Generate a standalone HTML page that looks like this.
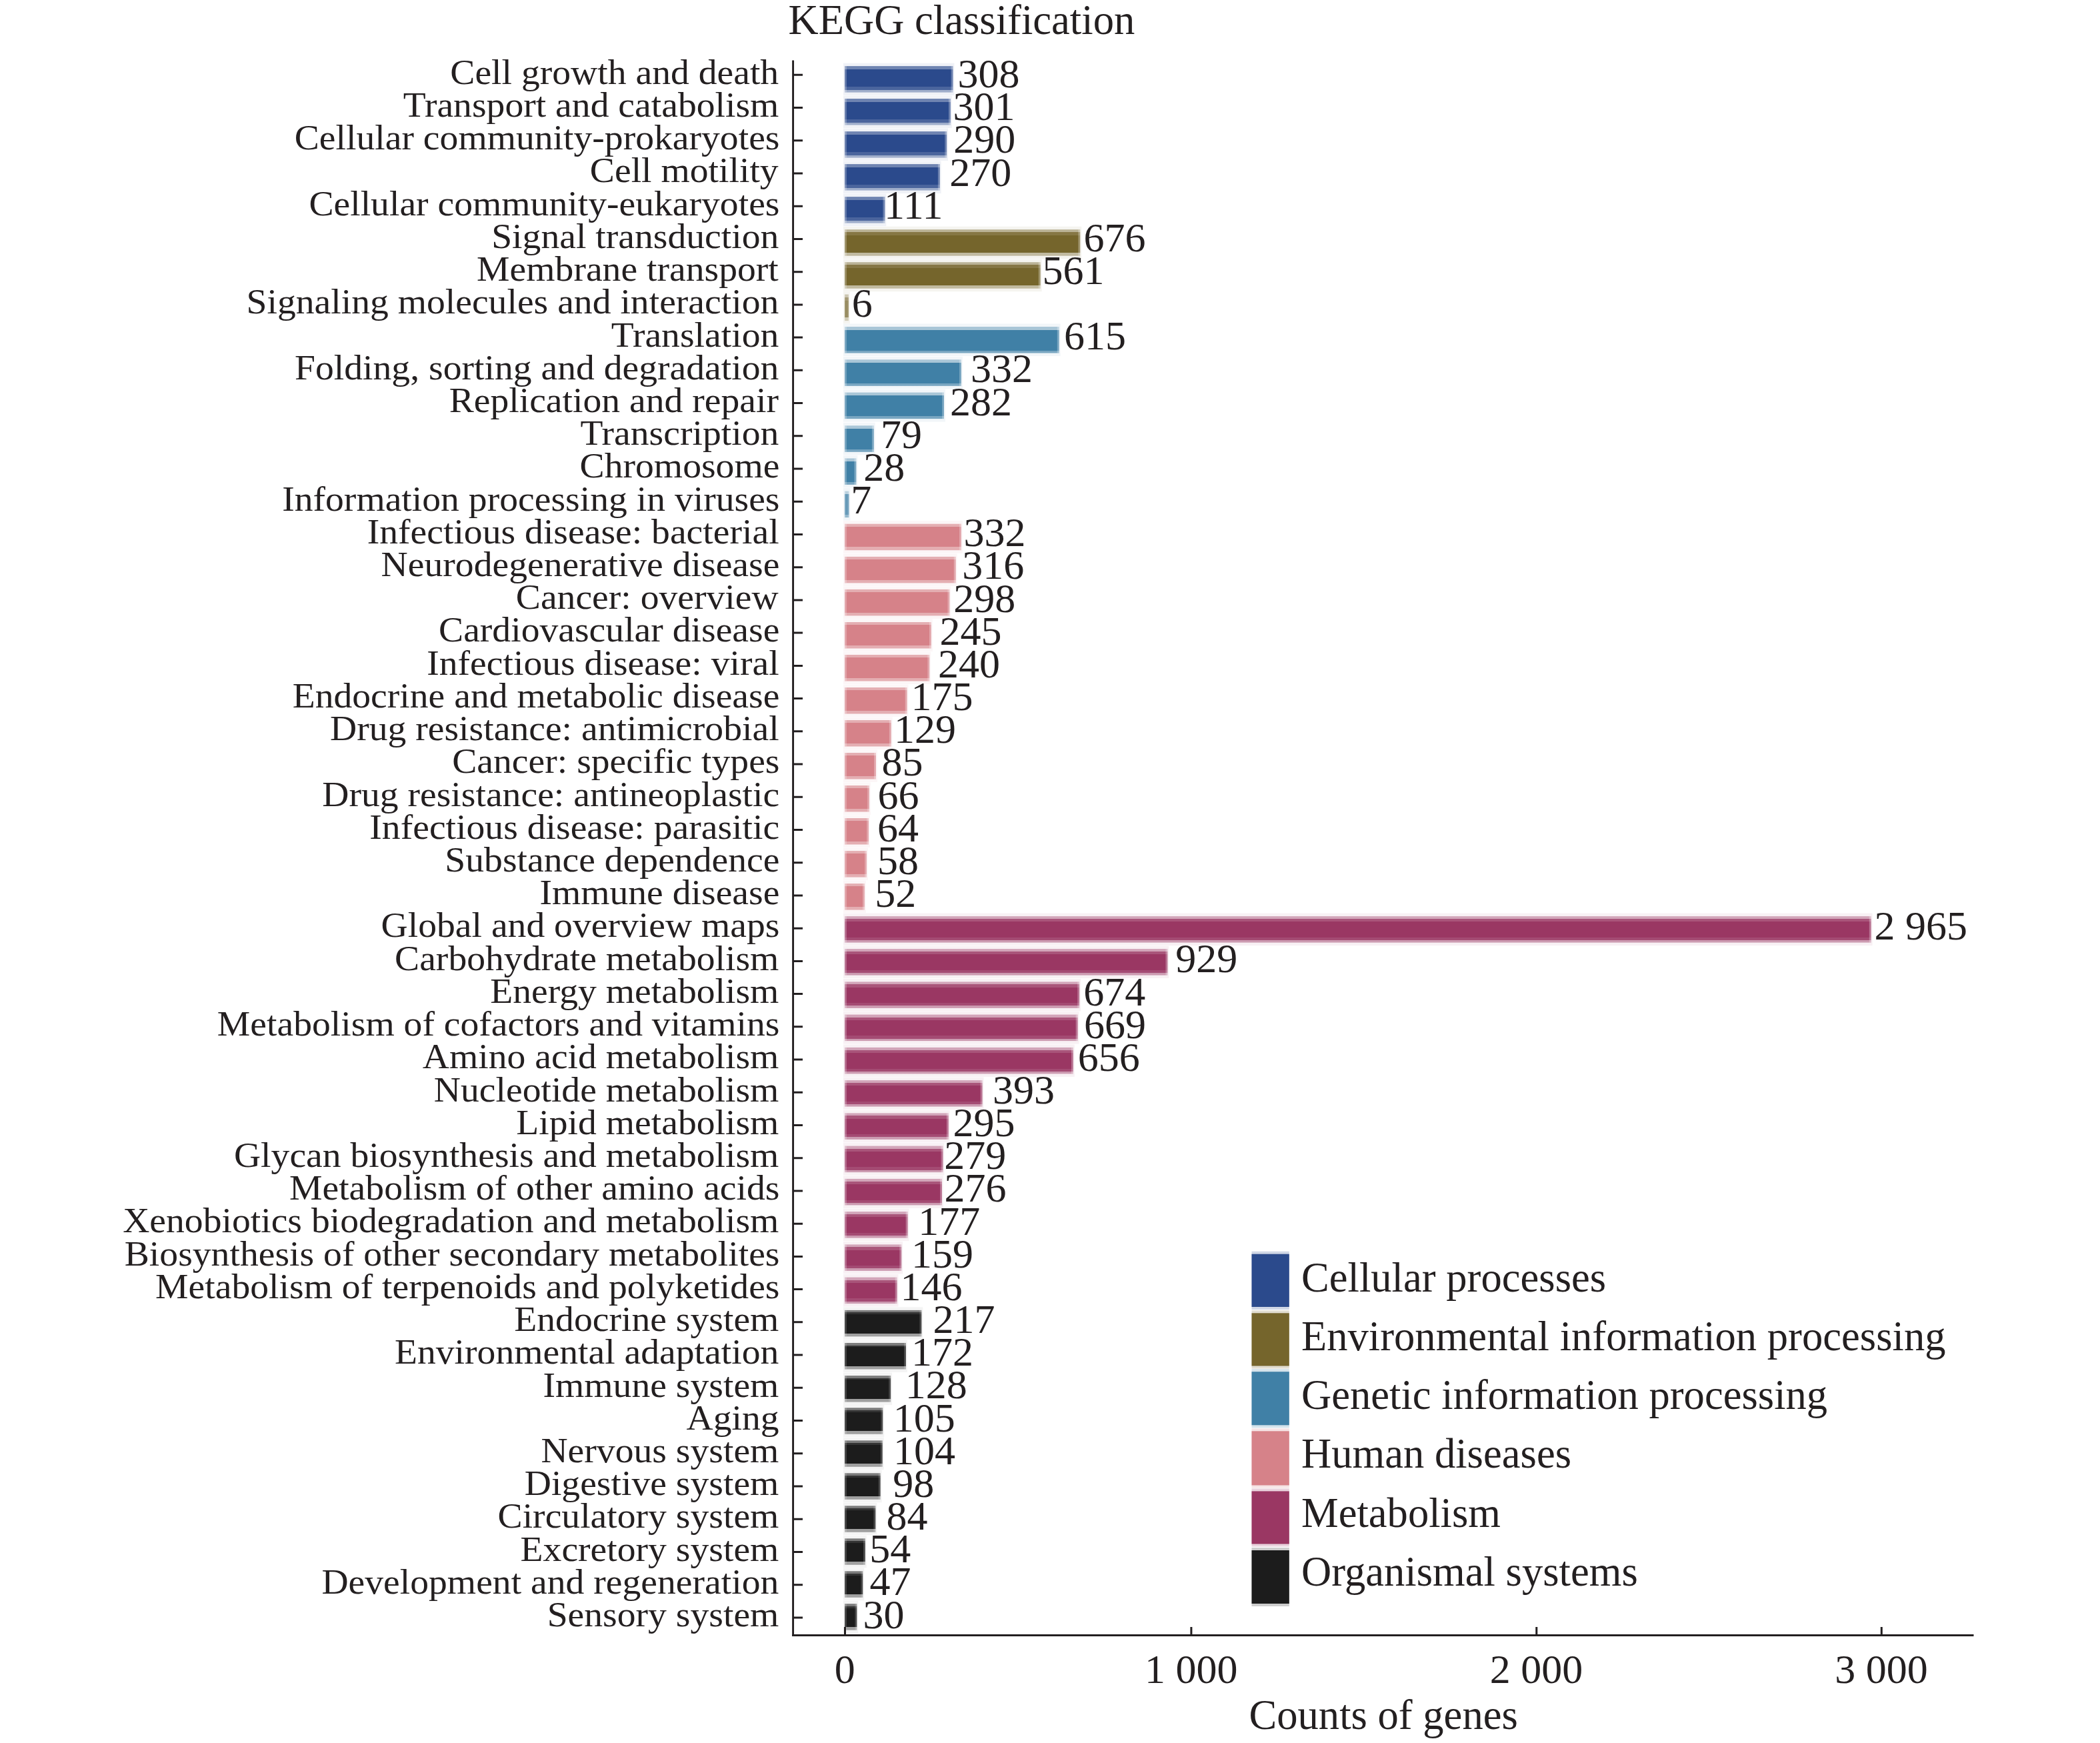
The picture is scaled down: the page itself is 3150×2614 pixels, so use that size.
<!DOCTYPE html>
<html><head><meta charset="utf-8"><title>KEGG classification</title>
<style>
html,body{margin:0;padding:0;background:#fff;}
svg{display:block}
text{font-family:"Liberation Serif","Times New Roman",serif;fill:#231f20;}
.l{font-size:53.7px;text-anchor:end}
.v{font-size:62.0px}
.t{font-size:62.6px}
.k{font-size:62px;text-anchor:middle}
</style></head><body>
<svg width="3150" height="2614" viewBox="0 0 3150 2614">
<defs>
<linearGradient id="g0" x1="0" y1="0" x2="0" y2="1"><stop offset="0" stop-color="#6f84b1"/><stop offset="0.12" stop-color="#6f84b1"/><stop offset="0.12" stop-color="#2b4a8c"/><stop offset="0.79" stop-color="#2b4a8c"/><stop offset="0.79" stop-color="#4b659d"/><stop offset="0.91" stop-color="#4b659d"/><stop offset="0.91" stop-color="#a0aecb"/><stop offset="1" stop-color="#a0aecb"/></linearGradient>
<linearGradient id="g1" x1="0" y1="0" x2="0" y2="1"><stop offset="0" stop-color="#bab296"/><stop offset="0.1" stop-color="#bab296"/><stop offset="0.1" stop-color="#867745"/><stop offset="0.23" stop-color="#867745"/><stop offset="0.23" stop-color="#75652c"/><stop offset="0.87" stop-color="#75652c"/><stop offset="0.87" stop-color="#c1baa0"/><stop offset="1" stop-color="#c1baa0"/></linearGradient>
<linearGradient id="g2" x1="0" y1="0" x2="0" y2="1"><stop offset="0" stop-color="#a9c6d7"/><stop offset="0.12" stop-color="#a9c6d7"/><stop offset="0.12" stop-color="#4080a6"/><stop offset="0.9" stop-color="#4080a6"/><stop offset="0.9" stop-color="#79a6c1"/><stop offset="1" stop-color="#79a6c1"/></linearGradient>
<linearGradient id="g3" x1="0" y1="0" x2="0" y2="1"><stop offset="0" stop-color="#e4aeb2"/><stop offset="0.11" stop-color="#e4aeb2"/><stop offset="0.11" stop-color="#d68289"/><stop offset="0.88" stop-color="#d68289"/><stop offset="0.88" stop-color="#e4aeb2"/><stop offset="1" stop-color="#e4aeb2"/></linearGradient>
<linearGradient id="g4" x1="0" y1="0" x2="0" y2="1"><stop offset="0" stop-color="#d2a5b9"/><stop offset="0.1" stop-color="#d2a5b9"/><stop offset="0.1" stop-color="#a9557a"/><stop offset="0.21" stop-color="#a9557a"/><stop offset="0.21" stop-color="#9a3763"/><stop offset="0.8" stop-color="#9a3763"/><stop offset="0.8" stop-color="#a44b73"/><stop offset="0.91" stop-color="#a44b73"/><stop offset="0.91" stop-color="#cc9bb1"/><stop offset="1" stop-color="#cc9bb1"/></linearGradient>
<linearGradient id="g5" x1="0" y1="0" x2="0" y2="1"><stop offset="0" stop-color="#7b7b7b"/><stop offset="0.09" stop-color="#7b7b7b"/><stop offset="0.09" stop-color="#333333"/><stop offset="0.16" stop-color="#333333"/><stop offset="0.16" stop-color="#1c1c1c"/><stop offset="0.88" stop-color="#1c1c1c"/><stop offset="0.88" stop-color="#a0a0a0"/><stop offset="1" stop-color="#a0a0a0"/></linearGradient>
</defs>
<rect width="3150" height="2614" fill="#fff"/>
<text class="t" x="1182.5" y="51.4">KEGG classification</text>
<rect x="1265.0" y="94.6" width="166.4" height="48.5" fill="#f0f2f7"/>
<rect x="1267.0" y="99.1" width="162.4" height="39.5" fill="url(#g0)"/>
<rect x="1267.0" y="99.1" width="2.8" height="39.5" fill="#fff" fill-opacity="0.3"/>
<rect x="1426.6" y="99.1" width="2.8" height="39.5" fill="#fff" fill-opacity="0.3"/>
<rect x="1265.0" y="143.5" width="162.8" height="48.5" fill="#f0f2f7"/>
<rect x="1267.0" y="148.0" width="158.8" height="39.5" fill="url(#g0)"/>
<rect x="1267.0" y="148.0" width="2.8" height="39.5" fill="#fff" fill-opacity="0.3"/>
<rect x="1423.0" y="148.0" width="2.8" height="39.5" fill="#fff" fill-opacity="0.3"/>
<rect x="1265.0" y="192.6" width="157.1" height="48.5" fill="#f0f2f7"/>
<rect x="1267.0" y="197.1" width="153.1" height="39.5" fill="url(#g0)"/>
<rect x="1267.0" y="197.1" width="2.8" height="39.5" fill="#fff" fill-opacity="0.3"/>
<rect x="1417.3" y="197.1" width="2.8" height="39.5" fill="#fff" fill-opacity="0.3"/>
<rect x="1265.0" y="241.6" width="146.7" height="48.5" fill="#f0f2f7"/>
<rect x="1267.0" y="246.1" width="142.7" height="39.5" fill="url(#g0)"/>
<rect x="1267.0" y="246.1" width="2.8" height="39.5" fill="#fff" fill-opacity="0.3"/>
<rect x="1406.9" y="246.1" width="2.8" height="39.5" fill="#fff" fill-opacity="0.3"/>
<rect x="1265.0" y="290.6" width="64.3" height="48.5" fill="#f0f2f7"/>
<rect x="1267.0" y="295.1" width="60.3" height="39.5" fill="url(#g0)"/>
<rect x="1267.0" y="295.1" width="2.8" height="39.5" fill="#fff" fill-opacity="0.3"/>
<rect x="1324.5" y="295.1" width="2.8" height="39.5" fill="#fff" fill-opacity="0.3"/>
<rect x="1265.0" y="339.7" width="357.2" height="48.5" fill="#f5f4f0"/>
<rect x="1267.0" y="344.2" width="353.2" height="39.5" fill="url(#g1)"/>
<rect x="1267.0" y="344.2" width="2.8" height="39.5" fill="#fff" fill-opacity="0.3"/>
<rect x="1617.4" y="344.2" width="2.8" height="39.5" fill="#fff" fill-opacity="0.3"/>
<rect x="1265.0" y="388.7" width="297.6" height="48.5" fill="#f5f4f0"/>
<rect x="1267.0" y="393.2" width="293.6" height="39.5" fill="url(#g1)"/>
<rect x="1267.0" y="393.2" width="2.8" height="39.5" fill="#fff" fill-opacity="0.3"/>
<rect x="1557.8" y="393.2" width="2.8" height="39.5" fill="#fff" fill-opacity="0.3"/>
<rect x="1265.0" y="437.1" width="9.9" height="48.5" fill="#f5f4f0"/>
<rect x="1267.0" y="441.6" width="5.9" height="39.5" fill="url(#g1)"/>
<rect x="1267.0" y="441.6" width="2.8" height="39.5" fill="#fff" fill-opacity="0.3"/>
<rect x="1270.1" y="441.6" width="2.8" height="39.5" fill="#fff" fill-opacity="0.3"/>
<rect x="1265.0" y="485.5" width="325.6" height="48.5" fill="#f2f6f9"/>
<rect x="1267.0" y="490.0" width="321.6" height="39.5" fill="url(#g2)"/>
<rect x="1267.0" y="490.0" width="2.8" height="39.5" fill="#fff" fill-opacity="0.3"/>
<rect x="1585.8" y="490.0" width="2.8" height="39.5" fill="#fff" fill-opacity="0.3"/>
<rect x="1265.0" y="534.8" width="178.9" height="48.5" fill="#f2f6f9"/>
<rect x="1267.0" y="539.3" width="174.9" height="39.5" fill="url(#g2)"/>
<rect x="1267.0" y="539.3" width="2.8" height="39.5" fill="#fff" fill-opacity="0.3"/>
<rect x="1439.1" y="539.3" width="2.8" height="39.5" fill="#fff" fill-opacity="0.3"/>
<rect x="1265.0" y="584.1" width="153.0" height="48.5" fill="#f2f6f9"/>
<rect x="1267.0" y="588.6" width="149.0" height="39.5" fill="url(#g2)"/>
<rect x="1267.0" y="588.6" width="2.8" height="39.5" fill="#fff" fill-opacity="0.3"/>
<rect x="1413.2" y="588.6" width="2.8" height="39.5" fill="#fff" fill-opacity="0.3"/>
<rect x="1265.0" y="633.8" width="47.7" height="48.5" fill="#f2f6f9"/>
<rect x="1267.0" y="638.3" width="43.7" height="39.5" fill="url(#g2)"/>
<rect x="1267.0" y="638.3" width="2.8" height="39.5" fill="#fff" fill-opacity="0.3"/>
<rect x="1307.9" y="638.3" width="2.8" height="39.5" fill="#fff" fill-opacity="0.3"/>
<rect x="1265.0" y="682.9" width="21.3" height="48.5" fill="#f2f6f9"/>
<rect x="1267.0" y="687.4" width="17.3" height="39.5" fill="url(#g2)"/>
<rect x="1267.0" y="687.4" width="2.8" height="39.5" fill="#fff" fill-opacity="0.3"/>
<rect x="1281.5" y="687.4" width="2.8" height="39.5" fill="#fff" fill-opacity="0.3"/>
<rect x="1265.0" y="732.1" width="10.4" height="48.5" fill="#f2f6f9"/>
<rect x="1267.0" y="736.6" width="6.4" height="39.5" fill="url(#g2)"/>
<rect x="1267.0" y="736.6" width="2.8" height="39.5" fill="#fff" fill-opacity="0.3"/>
<rect x="1270.6" y="736.6" width="2.8" height="39.5" fill="#fff" fill-opacity="0.3"/>
<rect x="1265.0" y="781.2" width="178.9" height="48.5" fill="#fcf6f7"/>
<rect x="1267.0" y="785.7" width="174.9" height="39.5" fill="url(#g3)"/>
<rect x="1267.0" y="785.7" width="2.8" height="39.5" fill="#fff" fill-opacity="0.3"/>
<rect x="1439.1" y="785.7" width="2.8" height="39.5" fill="#fff" fill-opacity="0.3"/>
<rect x="1265.0" y="830.4" width="170.6" height="48.5" fill="#fcf6f7"/>
<rect x="1267.0" y="834.9" width="166.6" height="39.5" fill="url(#g3)"/>
<rect x="1267.0" y="834.9" width="2.8" height="39.5" fill="#fff" fill-opacity="0.3"/>
<rect x="1430.8" y="834.9" width="2.8" height="39.5" fill="#fff" fill-opacity="0.3"/>
<rect x="1265.0" y="879.4" width="161.3" height="48.5" fill="#fcf6f7"/>
<rect x="1267.0" y="883.9" width="157.3" height="39.5" fill="url(#g3)"/>
<rect x="1267.0" y="883.9" width="2.8" height="39.5" fill="#fff" fill-opacity="0.3"/>
<rect x="1421.5" y="883.9" width="2.8" height="39.5" fill="#fff" fill-opacity="0.3"/>
<rect x="1265.0" y="928.5" width="133.8" height="48.5" fill="#fcf6f7"/>
<rect x="1267.0" y="933.0" width="129.8" height="39.5" fill="url(#g3)"/>
<rect x="1267.0" y="933.0" width="2.8" height="39.5" fill="#fff" fill-opacity="0.3"/>
<rect x="1394.0" y="933.0" width="2.8" height="39.5" fill="#fff" fill-opacity="0.3"/>
<rect x="1265.0" y="977.5" width="131.2" height="48.5" fill="#fcf6f7"/>
<rect x="1267.0" y="982.0" width="127.2" height="39.5" fill="url(#g3)"/>
<rect x="1267.0" y="982.0" width="2.8" height="39.5" fill="#fff" fill-opacity="0.3"/>
<rect x="1391.4" y="982.0" width="2.8" height="39.5" fill="#fff" fill-opacity="0.3"/>
<rect x="1265.0" y="1026.5" width="97.5" height="48.5" fill="#fcf6f7"/>
<rect x="1267.0" y="1031.0" width="93.5" height="39.5" fill="url(#g3)"/>
<rect x="1267.0" y="1031.0" width="2.8" height="39.5" fill="#fff" fill-opacity="0.3"/>
<rect x="1357.7" y="1031.0" width="2.8" height="39.5" fill="#fff" fill-opacity="0.3"/>
<rect x="1265.0" y="1075.5" width="73.7" height="48.5" fill="#fcf6f7"/>
<rect x="1267.0" y="1080.0" width="69.7" height="39.5" fill="url(#g3)"/>
<rect x="1267.0" y="1080.0" width="2.8" height="39.5" fill="#fff" fill-opacity="0.3"/>
<rect x="1333.9" y="1080.0" width="2.8" height="39.5" fill="#fff" fill-opacity="0.3"/>
<rect x="1265.0" y="1124.5" width="50.9" height="48.5" fill="#fcf6f7"/>
<rect x="1267.0" y="1129.0" width="46.9" height="39.5" fill="url(#g3)"/>
<rect x="1267.0" y="1129.0" width="2.8" height="39.5" fill="#fff" fill-opacity="0.3"/>
<rect x="1311.1" y="1129.0" width="2.8" height="39.5" fill="#fff" fill-opacity="0.3"/>
<rect x="1265.0" y="1173.5" width="41.0" height="48.5" fill="#fcf6f7"/>
<rect x="1267.0" y="1178.0" width="37.0" height="39.5" fill="url(#g3)"/>
<rect x="1267.0" y="1178.0" width="2.8" height="39.5" fill="#fff" fill-opacity="0.3"/>
<rect x="1301.2" y="1178.0" width="2.8" height="39.5" fill="#fff" fill-opacity="0.3"/>
<rect x="1265.0" y="1222.5" width="40.0" height="48.5" fill="#fcf6f7"/>
<rect x="1267.0" y="1227.0" width="36.0" height="39.5" fill="url(#g3)"/>
<rect x="1267.0" y="1227.0" width="2.8" height="39.5" fill="#fff" fill-opacity="0.3"/>
<rect x="1300.2" y="1227.0" width="2.8" height="39.5" fill="#fff" fill-opacity="0.3"/>
<rect x="1265.0" y="1271.6" width="36.9" height="48.5" fill="#fcf6f7"/>
<rect x="1267.0" y="1276.1" width="32.9" height="39.5" fill="url(#g3)"/>
<rect x="1267.0" y="1276.1" width="2.8" height="39.5" fill="#fff" fill-opacity="0.3"/>
<rect x="1297.1" y="1276.1" width="2.8" height="39.5" fill="#fff" fill-opacity="0.3"/>
<rect x="1265.0" y="1320.6" width="33.8" height="48.5" fill="#fcf6f7"/>
<rect x="1267.0" y="1325.1" width="29.8" height="39.5" fill="url(#g3)"/>
<rect x="1267.0" y="1325.1" width="2.8" height="39.5" fill="#fff" fill-opacity="0.3"/>
<rect x="1294.0" y="1325.1" width="2.8" height="39.5" fill="#fff" fill-opacity="0.3"/>
<rect x="1265.0" y="1369.6" width="1543.6" height="48.5" fill="#f8f1f4"/>
<rect x="1267.0" y="1374.1" width="1539.6" height="39.5" fill="url(#g4)"/>
<rect x="1267.0" y="1374.1" width="2.8" height="39.5" fill="#fff" fill-opacity="0.3"/>
<rect x="2803.8" y="1374.1" width="2.8" height="39.5" fill="#fff" fill-opacity="0.3"/>
<rect x="1265.0" y="1418.6" width="488.3" height="48.5" fill="#f8f1f4"/>
<rect x="1267.0" y="1423.1" width="484.3" height="39.5" fill="url(#g4)"/>
<rect x="1267.0" y="1423.1" width="2.8" height="39.5" fill="#fff" fill-opacity="0.3"/>
<rect x="1748.5" y="1423.1" width="2.8" height="39.5" fill="#fff" fill-opacity="0.3"/>
<rect x="1265.0" y="1467.9" width="356.1" height="48.5" fill="#f8f1f4"/>
<rect x="1267.0" y="1472.4" width="352.1" height="39.5" fill="url(#g4)"/>
<rect x="1267.0" y="1472.4" width="2.8" height="39.5" fill="#fff" fill-opacity="0.3"/>
<rect x="1616.3" y="1472.4" width="2.8" height="39.5" fill="#fff" fill-opacity="0.3"/>
<rect x="1265.0" y="1517.1" width="353.5" height="48.5" fill="#f8f1f4"/>
<rect x="1267.0" y="1521.6" width="349.5" height="39.5" fill="url(#g4)"/>
<rect x="1267.0" y="1521.6" width="2.8" height="39.5" fill="#fff" fill-opacity="0.3"/>
<rect x="1613.7" y="1521.6" width="2.8" height="39.5" fill="#fff" fill-opacity="0.3"/>
<rect x="1265.0" y="1566.4" width="346.8" height="48.5" fill="#f8f1f4"/>
<rect x="1267.0" y="1570.9" width="342.8" height="39.5" fill="url(#g4)"/>
<rect x="1267.0" y="1570.9" width="2.8" height="39.5" fill="#fff" fill-opacity="0.3"/>
<rect x="1607.0" y="1570.9" width="2.8" height="39.5" fill="#fff" fill-opacity="0.3"/>
<rect x="1265.0" y="1615.6" width="210.5" height="48.5" fill="#f8f1f4"/>
<rect x="1267.0" y="1620.1" width="206.5" height="39.5" fill="url(#g4)"/>
<rect x="1267.0" y="1620.1" width="2.8" height="39.5" fill="#fff" fill-opacity="0.3"/>
<rect x="1470.7" y="1620.1" width="2.8" height="39.5" fill="#fff" fill-opacity="0.3"/>
<rect x="1265.0" y="1664.9" width="159.7" height="48.5" fill="#f8f1f4"/>
<rect x="1267.0" y="1669.4" width="155.7" height="39.5" fill="url(#g4)"/>
<rect x="1267.0" y="1669.4" width="2.8" height="39.5" fill="#fff" fill-opacity="0.3"/>
<rect x="1419.9" y="1669.4" width="2.8" height="39.5" fill="#fff" fill-opacity="0.3"/>
<rect x="1265.0" y="1714.1" width="151.4" height="48.5" fill="#f8f1f4"/>
<rect x="1267.0" y="1718.6" width="147.4" height="39.5" fill="url(#g4)"/>
<rect x="1267.0" y="1718.6" width="2.8" height="39.5" fill="#fff" fill-opacity="0.3"/>
<rect x="1411.6" y="1718.6" width="2.8" height="39.5" fill="#fff" fill-opacity="0.3"/>
<rect x="1265.0" y="1763.4" width="149.9" height="48.5" fill="#f8f1f4"/>
<rect x="1267.0" y="1767.9" width="145.9" height="39.5" fill="url(#g4)"/>
<rect x="1267.0" y="1767.9" width="2.8" height="39.5" fill="#fff" fill-opacity="0.3"/>
<rect x="1410.1" y="1767.9" width="2.8" height="39.5" fill="#fff" fill-opacity="0.3"/>
<rect x="1265.0" y="1812.6" width="98.5" height="48.5" fill="#f8f1f4"/>
<rect x="1267.0" y="1817.1" width="94.5" height="39.5" fill="url(#g4)"/>
<rect x="1267.0" y="1817.1" width="2.8" height="39.5" fill="#fff" fill-opacity="0.3"/>
<rect x="1358.7" y="1817.1" width="2.8" height="39.5" fill="#fff" fill-opacity="0.3"/>
<rect x="1265.0" y="1861.9" width="89.2" height="48.5" fill="#f8f1f4"/>
<rect x="1267.0" y="1866.4" width="85.2" height="39.5" fill="url(#g4)"/>
<rect x="1267.0" y="1866.4" width="2.8" height="39.5" fill="#fff" fill-opacity="0.3"/>
<rect x="1349.4" y="1866.4" width="2.8" height="39.5" fill="#fff" fill-opacity="0.3"/>
<rect x="1265.0" y="1911.1" width="82.5" height="48.5" fill="#f8f1f4"/>
<rect x="1267.0" y="1915.6" width="78.5" height="39.5" fill="url(#g4)"/>
<rect x="1267.0" y="1915.6" width="2.8" height="39.5" fill="#fff" fill-opacity="0.3"/>
<rect x="1342.7" y="1915.6" width="2.8" height="39.5" fill="#fff" fill-opacity="0.3"/>
<rect x="1265.0" y="1960.4" width="119.3" height="48.5" fill="#f4f4f4"/>
<rect x="1267.0" y="1964.9" width="115.3" height="39.5" fill="url(#g5)"/>
<rect x="1267.0" y="1964.9" width="2.8" height="39.5" fill="#fff" fill-opacity="0.2"/>
<rect x="1379.5" y="1964.9" width="2.8" height="39.5" fill="#fff" fill-opacity="0.2"/>
<rect x="1265.0" y="2009.5" width="95.9" height="48.5" fill="#f4f4f4"/>
<rect x="1267.0" y="2014.0" width="91.9" height="39.5" fill="url(#g5)"/>
<rect x="1267.0" y="2014.0" width="2.8" height="39.5" fill="#fff" fill-opacity="0.2"/>
<rect x="1356.1" y="2014.0" width="2.8" height="39.5" fill="#fff" fill-opacity="0.2"/>
<rect x="1265.0" y="2058.6" width="73.1" height="48.5" fill="#f4f4f4"/>
<rect x="1267.0" y="2063.1" width="69.1" height="39.5" fill="url(#g5)"/>
<rect x="1267.0" y="2063.1" width="2.8" height="39.5" fill="#fff" fill-opacity="0.2"/>
<rect x="1333.3" y="2063.1" width="2.8" height="39.5" fill="#fff" fill-opacity="0.2"/>
<rect x="1265.0" y="2106.8" width="61.2" height="48.5" fill="#f4f4f4"/>
<rect x="1267.0" y="2111.3" width="57.2" height="39.5" fill="url(#g5)"/>
<rect x="1267.0" y="2111.3" width="2.8" height="39.5" fill="#fff" fill-opacity="0.2"/>
<rect x="1321.4" y="2111.3" width="2.8" height="39.5" fill="#fff" fill-opacity="0.2"/>
<rect x="1265.0" y="2155.8" width="60.7" height="48.5" fill="#f4f4f4"/>
<rect x="1267.0" y="2160.3" width="56.7" height="39.5" fill="url(#g5)"/>
<rect x="1267.0" y="2160.3" width="2.8" height="39.5" fill="#fff" fill-opacity="0.2"/>
<rect x="1320.9" y="2160.3" width="2.8" height="39.5" fill="#fff" fill-opacity="0.2"/>
<rect x="1265.0" y="2204.8" width="57.6" height="48.5" fill="#f4f4f4"/>
<rect x="1267.0" y="2209.3" width="53.6" height="39.5" fill="url(#g5)"/>
<rect x="1267.0" y="2209.3" width="2.8" height="39.5" fill="#fff" fill-opacity="0.2"/>
<rect x="1317.8" y="2209.3" width="2.8" height="39.5" fill="#fff" fill-opacity="0.2"/>
<rect x="1265.0" y="2253.8" width="50.3" height="48.5" fill="#f4f4f4"/>
<rect x="1267.0" y="2258.3" width="46.3" height="39.5" fill="url(#g5)"/>
<rect x="1267.0" y="2258.3" width="2.8" height="39.5" fill="#fff" fill-opacity="0.2"/>
<rect x="1310.5" y="2258.3" width="2.8" height="39.5" fill="#fff" fill-opacity="0.2"/>
<rect x="1265.0" y="2302.8" width="34.8" height="48.5" fill="#f4f4f4"/>
<rect x="1267.0" y="2307.3" width="30.8" height="39.5" fill="url(#g5)"/>
<rect x="1267.0" y="2307.3" width="2.8" height="39.5" fill="#fff" fill-opacity="0.2"/>
<rect x="1295.0" y="2307.3" width="2.8" height="39.5" fill="#fff" fill-opacity="0.2"/>
<rect x="1265.0" y="2351.8" width="31.2" height="48.5" fill="#f4f4f4"/>
<rect x="1267.0" y="2356.3" width="27.2" height="39.5" fill="url(#g5)"/>
<rect x="1267.0" y="2356.3" width="2.8" height="39.5" fill="#fff" fill-opacity="0.2"/>
<rect x="1291.4" y="2356.3" width="2.8" height="39.5" fill="#fff" fill-opacity="0.2"/>
<rect x="1265.0" y="2400.7" width="22.3" height="48.5" fill="#f4f4f4"/>
<rect x="1267.0" y="2405.2" width="18.3" height="39.5" fill="url(#g5)"/>
<rect x="1267.0" y="2405.2" width="2.8" height="39.5" fill="#fff" fill-opacity="0.2"/>
<rect x="1282.5" y="2405.2" width="2.8" height="39.5" fill="#fff" fill-opacity="0.2"/>
<g stroke="#231f20" stroke-width="2.9" fill="none">
<path d="M1189.6 90.5V2453.9"/>
<path d="M1188.2 2452.5H2960.5"/>
<path d="M1189.6 112.3H1204M1189.6 161.5H1204M1189.6 210.8H1204M1189.6 260.0H1204M1189.6 309.2H1204M1189.6 358.4H1204M1189.6 407.7H1204M1189.6 456.9H1204M1189.6 506.1H1204M1189.6 555.3H1204M1189.6 604.5H1204M1189.6 653.8H1204M1189.6 703.0H1204M1189.6 752.2H1204M1189.6 801.4H1204M1189.6 850.7H1204M1189.6 899.9H1204M1189.6 949.1H1204M1189.6 998.4H1204M1189.6 1047.6H1204M1189.6 1096.8H1204M1189.6 1146.0H1204M1189.6 1195.2H1204M1189.6 1244.5H1204M1189.6 1293.7H1204M1189.6 1342.9H1204M1189.6 1392.2H1204M1189.6 1441.4H1204M1189.6 1490.6H1204M1189.6 1539.8H1204M1189.6 1589.0H1204M1189.6 1638.3H1204M1189.6 1687.5H1204M1189.6 1736.7H1204M1189.6 1786.0H1204M1189.6 1835.2H1204M1189.6 1884.4H1204M1189.6 1933.6H1204M1189.6 1982.8H1204M1189.6 2032.1H1204M1189.6 2081.3H1204M1189.6 2130.5H1204M1189.6 2179.8H1204M1189.6 2229.0H1204M1189.6 2278.2H1204M1189.6 2327.4H1204M1189.6 2376.7H1204M1189.6 2425.9H1204" stroke-width="3"/>
<path d="M1267.5 2452.5V2440M1786.9 2452.5V2440M2304.8 2452.5V2440M2822.3 2452.5V2440" stroke-width="3"/>
</g>
<text class="l" transform="translate(1168.2 125.7) scale(1.0363 1)">Cell growth and death</text>
<text class="l" transform="translate(1168.4 174.9) scale(1.0363 1)">Transport and catabolism</text>
<text class="l" transform="translate(1169.5 224.1) scale(1.0363 1)">Cellular community-prokaryotes</text>
<text class="l" transform="translate(1167.7 273.4) scale(1.0363 1)">Cell motility</text>
<text class="l" transform="translate(1169.5 322.6) scale(1.0363 1)">Cellular community-eukaryotes</text>
<text class="l" transform="translate(1168.3 371.8) scale(1.0363 1)">Signal transduction</text>
<text class="l" transform="translate(1167.8 421.0) scale(1.0363 1)">Membrane transport</text>
<text class="l" transform="translate(1168.3 470.2) scale(1.0363 1)">Signaling molecules and interaction</text>
<text class="l" transform="translate(1168.3 519.5) scale(1.0363 1)">Translation</text>
<text class="l" transform="translate(1168.3 568.7) scale(1.0363 1)">Folding, sorting and degradation</text>
<text class="l" transform="translate(1168.0 617.9) scale(1.0363 1)">Replication and repair</text>
<text class="l" transform="translate(1168.3 667.1) scale(1.0363 1)">Transcription</text>
<text class="l" transform="translate(1169.4 716.3) scale(1.0363 1)">Chromosome</text>
<text class="l" transform="translate(1169.5 765.6) scale(1.0363 1)">Information processing in viruses</text>
<text class="l" transform="translate(1168.6 814.8) scale(1.0363 1)">Infectious disease: bacterial</text>
<text class="l" transform="translate(1169.4 864.0) scale(1.0363 1)">Neurodegenerative disease</text>
<text class="l" transform="translate(1167.7 913.2) scale(1.0363 1)">Cancer: overview</text>
<text class="l" transform="translate(1169.4 962.4) scale(1.0363 1)">Cardiovascular disease</text>
<text class="l" transform="translate(1168.6 1011.7) scale(1.0363 1)">Infectious disease: viral</text>
<text class="l" transform="translate(1169.4 1060.9) scale(1.0363 1)">Endocrine and metabolic disease</text>
<text class="l" transform="translate(1168.6 1110.1) scale(1.0363 1)">Drug resistance: antimicrobial</text>
<text class="l" transform="translate(1169.5 1159.3) scale(1.0363 1)">Cancer: specific types</text>
<text class="l" transform="translate(1169.2 1208.5) scale(1.0363 1)">Drug resistance: antineoplastic</text>
<text class="l" transform="translate(1169.2 1257.8) scale(1.0363 1)">Infectious disease: parasitic</text>
<text class="l" transform="translate(1169.4 1307.0) scale(1.0363 1)">Substance dependence</text>
<text class="l" transform="translate(1169.4 1356.2) scale(1.0363 1)">Immune disease</text>
<text class="l" transform="translate(1169.5 1405.4) scale(1.0363 1)">Global and overview maps</text>
<text class="l" transform="translate(1168.4 1454.6) scale(1.0363 1)">Carbohydrate metabolism</text>
<text class="l" transform="translate(1168.4 1503.9) scale(1.0363 1)">Energy metabolism</text>
<text class="l" transform="translate(1169.5 1553.1) scale(1.0363 1)">Metabolism of cofactors and vitamins</text>
<text class="l" transform="translate(1168.4 1602.3) scale(1.0363 1)">Amino acid metabolism</text>
<text class="l" transform="translate(1168.4 1651.5) scale(1.0363 1)">Nucleotide metabolism</text>
<text class="l" transform="translate(1168.4 1700.7) scale(1.0363 1)">Lipid metabolism</text>
<text class="l" transform="translate(1168.4 1750.0) scale(1.0363 1)">Glycan biosynthesis and metabolism</text>
<text class="l" transform="translate(1169.5 1799.2) scale(1.0363 1)">Metabolism of other amino acids</text>
<text class="l" transform="translate(1168.4 1848.4) scale(1.0363 1)">Xenobiotics biodegradation and metabolism</text>
<text class="l" transform="translate(1169.5 1897.6) scale(1.0363 1)">Biosynthesis of other secondary metabolites</text>
<text class="l" transform="translate(1169.5 1946.8) scale(1.0363 1)">Metabolism of terpenoids and polyketides</text>
<text class="l" transform="translate(1168.4 1996.1) scale(1.0363 1)">Endocrine system</text>
<text class="l" transform="translate(1168.3 2045.3) scale(1.0363 1)">Environmental adaptation</text>
<text class="l" transform="translate(1168.4 2094.5) scale(1.0363 1)">Immune system</text>
<text class="l" transform="translate(1168.6 2143.7) scale(1.0363 1)">Aging</text>
<text class="l" transform="translate(1168.4 2192.9) scale(1.0363 1)">Nervous system</text>
<text class="l" transform="translate(1168.4 2242.2) scale(1.0363 1)">Digestive system</text>
<text class="l" transform="translate(1168.4 2291.4) scale(1.0363 1)">Circulatory system</text>
<text class="l" transform="translate(1168.4 2340.6) scale(1.0363 1)">Excretory system</text>
<text class="l" transform="translate(1168.3 2389.8) scale(1.0363 1)">Development and regeneration</text>
<text class="l" transform="translate(1168.4 2439.0) scale(1.0363 1)">Sensory system</text>
<text class="v" x="1436.5" y="131.0">308</text>
<text class="v" x="1429.4" y="180.2">301</text>
<text class="v" x="1430.2" y="229.3">290</text>
<text class="v" x="1424.2" y="278.5">270</text>
<text class="v" x="1326.0" y="327.6">111</text>
<text class="v" x="1625.6" y="376.8">676</text>
<text class="v" x="1563.6" y="426.0">561</text>
<text class="v" x="1277.8" y="475.1">6</text>
<text class="v" x="1596.0" y="524.3">615</text>
<text class="v" x="1455.9" y="573.4">332</text>
<text class="v" x="1425.0" y="622.6">282</text>
<text class="v" x="1321.1" y="671.8">79</text>
<text class="v" x="1295.2" y="720.9">28</text>
<text class="v" x="1276.2" y="770.1">7</text>
<text class="v" x="1445.4" y="819.2">332</text>
<text class="v" x="1443.3" y="868.4">316</text>
<text class="v" x="1430.3" y="917.6">298</text>
<text class="v" x="1409.5" y="966.7">245</text>
<text class="v" x="1407.1" y="1015.9">240</text>
<text class="v" x="1366.5" y="1065.0">175</text>
<text class="v" x="1340.9" y="1114.2">129</text>
<text class="v" x="1322.4" y="1163.4">85</text>
<text class="v" x="1316.4" y="1212.5">66</text>
<text class="v" x="1316.0" y="1261.7">64</text>
<text class="v" x="1315.9" y="1310.8">58</text>
<text class="v" x="1312.3" y="1360.0">52</text>
<text class="v" x="2811.4" y="1409.2">2 965</text>
<text class="v" x="1763.3" y="1458.3">929</text>
<text class="v" x="1625.2" y="1507.5">674</text>
<text class="v" x="1625.9" y="1556.6">669</text>
<text class="v" x="1616.7" y="1605.8">656</text>
<text class="v" x="1489.0" y="1655.0">393</text>
<text class="v" x="1429.5" y="1704.1">295</text>
<text class="v" x="1416.2" y="1753.3">279</text>
<text class="v" x="1416.4" y="1802.4">276</text>
<text class="v" x="1377.2" y="1851.6">177</text>
<text class="v" x="1367.0" y="1900.8">159</text>
<text class="v" x="1350.5" y="1949.9">146</text>
<text class="v" x="1399.5" y="1999.1">217</text>
<text class="v" x="1367.0" y="2048.2">172</text>
<text class="v" x="1357.8" y="2097.4">128</text>
<text class="v" x="1339.8" y="2146.6">105</text>
<text class="v" x="1340.1" y="2195.7">104</text>
<text class="v" x="1339.2" y="2244.9">98</text>
<text class="v" x="1329.6" y="2294.0">84</text>
<text class="v" x="1304.3" y="2343.2">54</text>
<text class="v" x="1304.4" y="2392.4">47</text>
<text class="v" x="1294.5" y="2441.5">30</text>
<text class="k" x="1267.3" y="2524">0</text>
<text class="k" x="1786.7" y="2524">1 000</text>
<text class="k" x="2304.6" y="2524">2 000</text>
<text class="k" x="2822.1" y="2524">3 000</text>
<text class="t" x="1873.5" y="2592.5">Counts of genes</text>
<rect x="1877.5" y="1876.7" width="56.3" height="87.3" fill="#d0d7e6"/>
<rect x="1877.5" y="1880.7" width="56.3" height="79.3" fill="#2b4a8c"/>
<text class="t" x="1952" y="1936.7">Cellular processes</text>
<rect x="1877.5" y="1965.3" width="56.3" height="87.2" fill="#e1ddd1"/>
<rect x="1877.5" y="1969.3" width="56.3" height="79.2" fill="#75652c"/>
<text class="t" x="1952" y="2024.9">Environmental information processing</text>
<rect x="1877.5" y="2053.2" width="56.3" height="88.1" fill="#d5e3eb"/>
<rect x="1877.5" y="2057.2" width="56.3" height="80.1" fill="#4080a6"/>
<text class="t" x="1952" y="2113.1">Genetic information processing</text>
<rect x="1877.5" y="2142.3" width="56.3" height="89.2" fill="#f6e4e5"/>
<rect x="1877.5" y="2146.3" width="56.3" height="81.2" fill="#d68289"/>
<text class="t" x="1952" y="2201.3">Human diseases</text>
<rect x="1877.5" y="2232.4" width="56.3" height="87.1" fill="#e9d3dd"/>
<rect x="1877.5" y="2236.4" width="56.3" height="79.1" fill="#9a3763"/>
<text class="t" x="1952" y="2289.5">Metabolism</text>
<rect x="1877.5" y="2321.0" width="56.3" height="88.0" fill="#cdcdcd"/>
<rect x="1877.5" y="2325.0" width="56.3" height="80.0" fill="#1c1c1c"/>
<text class="t" x="1952" y="2377.7">Organismal systems</text>
</svg></body></html>
